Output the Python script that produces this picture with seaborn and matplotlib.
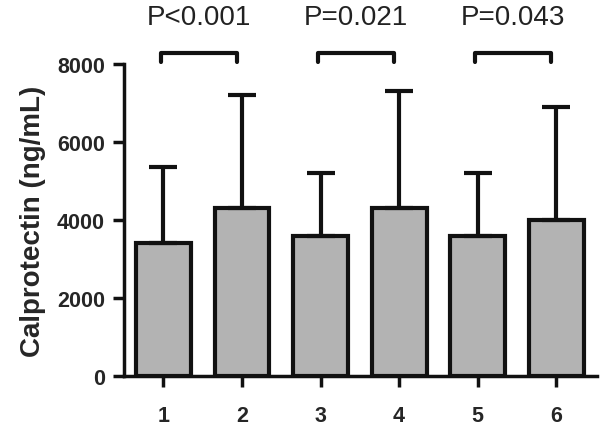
import numpy as np
import matplotlib
matplotlib.use("Agg")
import matplotlib.pyplot as plt
import seaborn as sns
import pandas as pd

# values
groups = ["1", "2", "3", "4", "5", "6"]
means = [3400, 4300, 3600, 4300, 3600, 4000]
upper_sd = [1950, 2900, 1600, 3000, 1600, 2900]
pairs = [(0, 1), (2, 3), (4, 5)]
p_labels = ["P<0.001", "P=0.021", "P=0.043"]

sns.set_theme(style="ticks")
plt.rcParams["font.family"] = ["Liberation Sans", "DejaVu Sans"]

df = pd.DataFrame({"group": groups, "calpro": means})

fig = plt.figure(figsize=(6, 4.27), dpi=100)
ax = fig.add_axes([0.207, 0.117, 0.788, 0.731])

sns.barplot(data=df, x="group", y="calpro", color="#b3b3b3", saturation=1,
            width=0.7, edgecolor="#111111", linewidth=3, errorbar=None, ax=ax)

# upper-only SD bars
x = np.arange(len(groups))
ax.errorbar(x, means, yerr=[np.zeros(len(means)), upper_sd], fmt="none",
            ecolor="#111111", elinewidth=3, capsize=10, capthick=3, zorder=1)

ax.set_xlim(-0.5, 5.52)
ax.set_ylim(0, 8000)
ax.set_yticks([0, 2000, 4000, 6000, 8000])
ax.set_xlabel("")
ax.set_ylabel("Calprotectin (ng/mL)", fontsize=20, fontweight="bold", labelpad=8)

for lab in ax.get_xticklabels() + ax.get_yticklabels():
    lab.set_fontweight("bold")
ax.tick_params(axis="both", labelsize=15.5, width=2.5, length=8, color="#111111",
               direction="out")
ax.tick_params(axis="x", pad=13)
ax.tick_params(axis="y", pad=6)
sns.despine(ax=ax)
for s in ["left", "bottom"]:
    ax.spines[s].set_linewidth(2.5)
    ax.spines[s].set_color("#111111")

# significance brackets
for (a, b), txt in zip(pairs, p_labels):
    x1, x2 = a - 0.03, b - 0.07
    ax.plot([x1, x1, x2, x2], [8050, 8280, 8280, 8050], color="#111111",
            lw=3, clip_on=False, solid_capstyle="round")
    ax.text((x1 + x2) / 2, 9200, txt, ha="center", va="center", fontsize=20,
            color="#222222", clip_on=False)

fig.savefig("out.png", dpi=100)
